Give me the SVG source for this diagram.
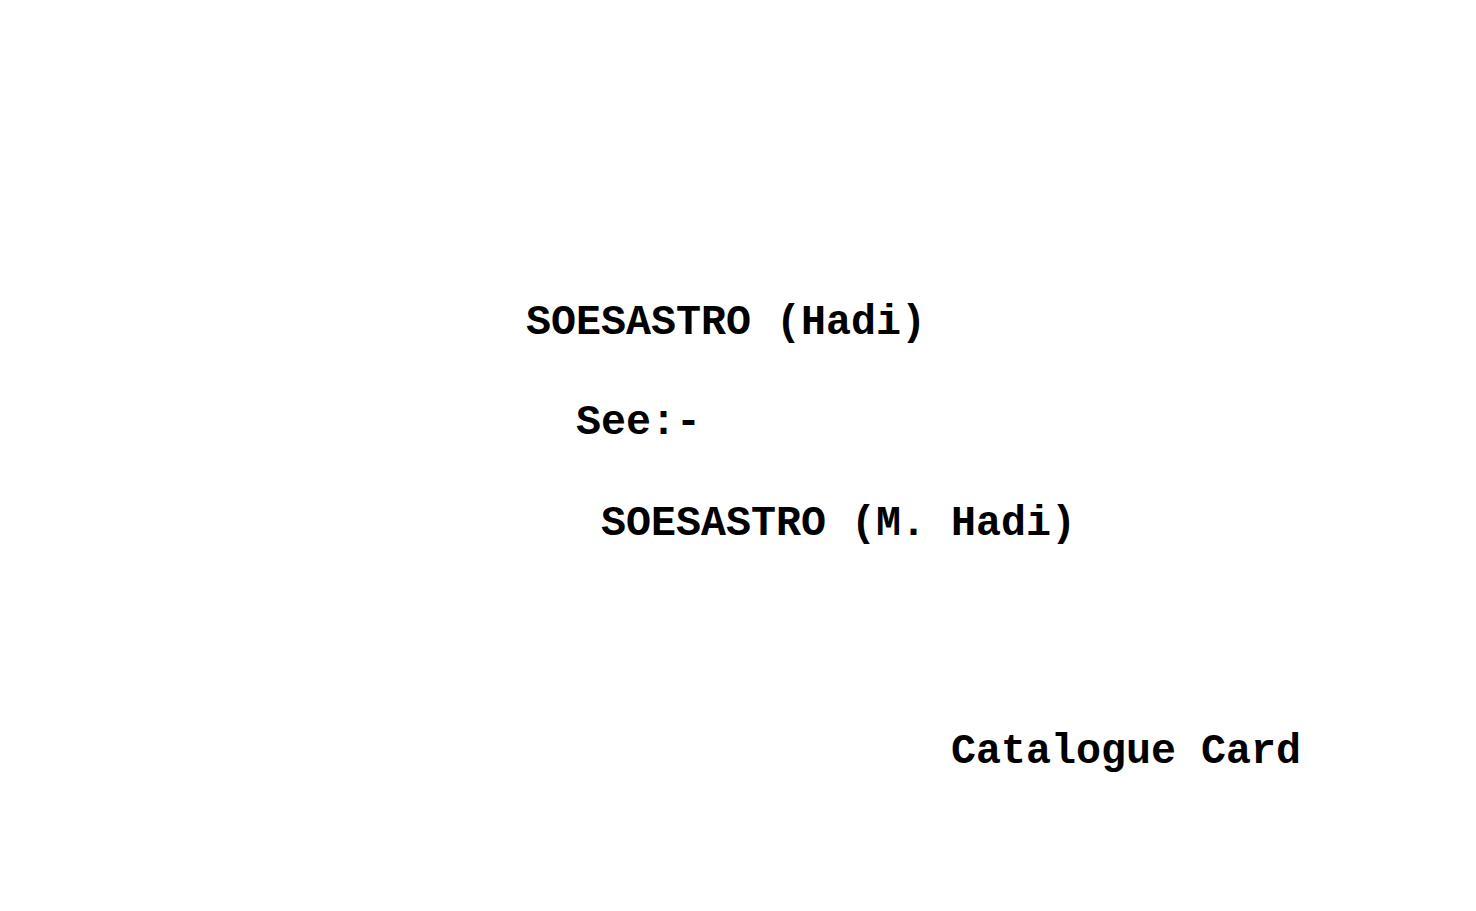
<svg xmlns="http://www.w3.org/2000/svg" width="1476" height="911" viewBox="0 0 1476 911">
<style>
.t{font-family:"Liberation Mono","Courier New",monospace;font-weight:bold;font-size:41.7px;fill:#000}
</style>
<rect width="1476" height="911" fill="#fff"/>
<g id="heading"><text class="t" x="526" y="334" textLength="400" lengthAdjust="spacingAndGlyphs">SOESASTRO (Hadi)</text></g>
<g id="see"><text class="t" x="576" y="434" textLength="125" lengthAdjust="spacingAndGlyphs">See:-</text></g>
<g id="ref"><text class="t" x="601" y="535" textLength="475" lengthAdjust="spacingAndGlyphs">SOESASTRO (M. Hadi)</text></g>
<g id="footer"><text class="t" x="951" y="763" textLength="350" lengthAdjust="spacingAndGlyphs">Catalogue Card</text></g>
</svg>
